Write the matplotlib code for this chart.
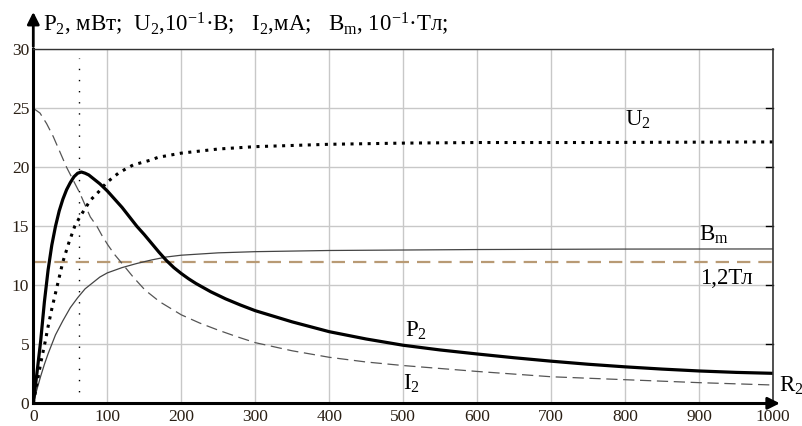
import matplotlib
matplotlib.use("Agg")
import matplotlib.pyplot as plt

plt.rcParams['font.family'] = ['Liberation Serif', 'DejaVu Serif']
plt.rcParams['mathtext.fontset'] = 'custom'
plt.rcParams['mathtext.rm'] = 'Liberation Serif'
plt.rcParams['mathtext.it'] = 'Liberation Serif:italic'

# ---- data ----
R_P = [0, 5, 10, 15, 20, 25, 30, 35, 40, 45, 50, 55, 60, 65, 70, 75, 80, 90, 100, 110, 120,
       130, 140, 150, 160, 170, 180, 190, 200, 210, 220, 240, 260, 280, 300, 350, 400, 450,
       500, 550, 600, 650, 700, 750, 800, 850, 900, 950, 1000]
P2 = [0, 2.6, 5.3, 8.6, 11.3, 13.4, 15.0, 16.3, 17.3, 18.1, 18.7, 19.2, 19.5, 19.6, 19.5,
      19.35, 19.1, 18.6, 18.0, 17.3, 16.6, 15.8, 15.0, 14.3, 13.55, 12.8, 12.1, 11.5, 11.0,
      10.55, 10.15, 9.45, 8.85, 8.33, 7.85, 6.9, 6.07, 5.45, 4.92, 4.52, 4.18, 3.86, 3.57,
      3.31, 3.09, 2.9, 2.74, 2.62, 2.54]

R_U = [0, 5, 10, 16, 20, 25, 31, 40, 48, 56, 63, 70, 77, 88, 99, 115, 126, 135, 158, 169,
       200, 250, 300, 400, 500, 600, 750, 1000]
U2 = [0, 1.7, 3.4, 5.2, 6.5, 8.0, 9.6, 12.0, 13.6, 15.0, 15.8, 16.5, 17.2, 17.9, 18.7, 19.5,
      19.9, 20.2, 20.6, 20.85, 21.2, 21.55, 21.75, 21.95, 22.05, 22.1, 22.1, 22.15]

R_I = [0, 9, 18, 27, 36, 45, 54, 63, 70, 77, 86, 93, 101, 110, 122, 135, 151, 171, 200, 225,
       250, 275, 300, 350, 400, 450, 500, 600, 700, 800, 900, 1000]
I2 = [25, 24.6, 23.7, 22.6, 21.3, 20.0, 18.9, 17.8, 16.8, 15.8, 15.0, 14.2, 13.4, 12.6, 11.7,
      10.7, 9.6, 8.6, 7.5, 6.8, 6.2, 5.65, 5.14, 4.45, 3.9, 3.5, 3.2, 2.7, 2.25, 2.0, 1.75, 1.55]

R_B = [0, 5, 10, 15, 20, 30, 40, 50, 60, 70, 80, 90, 100, 120, 140, 160, 180, 200, 250, 300,
       400, 600, 800, 1000]
Bm = [0, 1.2, 2.3, 3.3, 4.2, 5.8, 7.0, 8.1, 8.95, 9.7, 10.2, 10.7, 11.05, 11.5, 11.85, 12.15,
      12.4, 12.55, 12.75, 12.85, 12.95, 13.03, 13.07, 13.08]

B_limit = 12.0
R_opt = 62
x_ticks = [0, 100, 200, 300, 400, 500, 600, 700, 800, 900, 1000]
y_ticks = [0, 5, 10, 15, 20, 25, 30]

fig = plt.figure(figsize=(8.03, 4.26), dpi=100)
ax = fig.add_axes([33.3 / 803, 1 - 403.3 / 426, (773 - 33.3) / 803, (403.3 - 49.3) / 426])
ax.set_xlim(0, 1000)
ax.set_ylim(0, 30)
ax.set_xticks(x_ticks)
ax.set_yticks(y_ticks)
ax.grid(True, color='#c8c8c8', lw=1.0)
ax.set_axisbelow(True)

tick_col = '#2a1f14'
ax.tick_params(axis='both', length=0, labelsize=12.5, labelcolor=tick_col, pad=4)
ax.tick_params(axis='y', pad=3)

for s in ['left', 'bottom']:
    ax.spines[s].set_linewidth(2.2)
    ax.spines[s].set_color('black')
ax.spines['top'].set_linewidth(1.0)
ax.spines['top'].set_color('#333333')
ax.spines['right'].set_linewidth(1.2)
ax.spines['right'].set_color('#333333')

# right-side inward ticks
for v in y_ticks[1:-1]:
    ax.plot([990, 1000], [v, v], color='black', lw=1.0, clip_on=False)

# reference lines
ax.axhline(B_limit, color='#b89a74', lw=1.6, ls=(0, (6, 3.6)))
ax.plot([R_opt, R_opt], [0, 29.3], color='black', lw=1.0, ls=(0, (1, 7)))

# curves
ax.plot(R_I, I2, color='#555555', lw=0.9, ls=(0, (9, 4.5)))
ax.plot(R_B, Bm, color='#444444', lw=0.9)
ax.plot(R_U, U2, color='black', lw=2.2, ls=(0, (1, 1.8)))
ax.plot(R_P, P2, color='black', lw=2.3, solid_joinstyle='round')

# arrows on axes
ax.annotate('', xy=(1013, 0), xytext=(990, 0),
            arrowprops=dict(arrowstyle='-|>', color='black', lw=2, mutation_scale=18),
            annotation_clip=False)
ax.annotate('', xy=(0, 33.4), xytext=(0, 30),
            arrowprops=dict(arrowstyle='-|>', color='black', lw=2, mutation_scale=18),
            annotation_clip=False)

fs = 16.5
ax.text(13, 31.0, r'P$_2$, мВт;  U$_2$,10$^{-1}$·В;   I$_2$,мА;   B$_\mathrm{m}$, 10$^{-1}$·Тл;',
        fontsize=fs, ha='left', va='bottom', clip_on=False)
ax.text(800, 23.1, r'U$_2$', fontsize=fs, ha='left', va='bottom')
ax.text(900, 13.3, r'B$_\mathrm{m}$', fontsize=fs, ha='left', va='bottom')
ax.text(902, 11.5, '1,2Тл', fontsize=fs, ha='left', va='top')
ax.text(502, 5.2, r'P$_2$', fontsize=fs, ha='left', va='bottom')
ax.text(500, 2.6, r'I$_2$', fontsize=fs, ha='left', va='top')
ax.text(1008, 1.5, r'R$_2$', fontsize=fs, ha='left', va='center', clip_on=False)

fig.savefig('out.png', dpi=100)
